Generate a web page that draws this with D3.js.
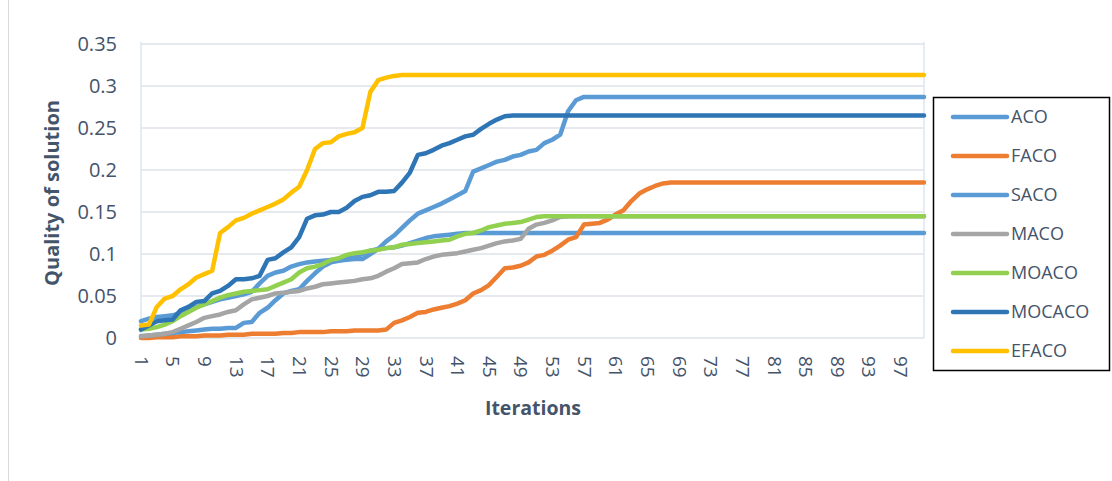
<!DOCTYPE html>
<html>
<head>
<meta charset="utf-8">
<script src="https://cdn.jsdelivr.net/npm/d3@7"></script>
<style>
  html, body { margin: 0; padding: 0; background: #ffffff; }
  svg { display: block; font-family: "Open Sans", "Noto Sans", sans-serif; }
</style>
</head>
<body>
<svg id="chart" width="1112" height="481"></svg>
<script>
// Iteration numbers 1..100
const iterations = d3.range(1, 101);

// Quality of solution per iteration; each run holds its last value once it converges
const hold = (values, len) => values.concat(Array(len - values.length).fill(values[values.length - 1]));

const aco = hold([0.020, 0.023, 0.025, 0.026, 0.027, 0.030, 0.033, 0.037, 0.040, 0.043,
  0.046, 0.048, 0.050, 0.052, 0.055, 0.065, 0.074, 0.078, 0.080, 0.085,
  0.088, 0.090, 0.091, 0.092, 0.093, 0.094, 0.095, 0.096, 0.100, 0.104,
  0.106, 0.107, 0.108, 0.110, 0.113, 0.116, 0.119, 0.121, 0.122, 0.123,
  0.124, 0.125], 100);

const faco = hold([0.000, 0.000, 0.001, 0.001, 0.001, 0.002, 0.002, 0.002, 0.003, 0.003,
  0.003, 0.004, 0.004, 0.004, 0.005, 0.005, 0.005, 0.005, 0.006, 0.006,
  0.007, 0.007, 0.007, 0.007, 0.008, 0.008, 0.008, 0.009, 0.009, 0.009,
  0.009, 0.010, 0.018, 0.021, 0.025, 0.030, 0.031, 0.034, 0.036, 0.038,
  0.041, 0.045, 0.053, 0.057, 0.063, 0.073, 0.083, 0.084, 0.086, 0.090,
  0.097, 0.099, 0.104, 0.110, 0.117, 0.120, 0.135, 0.136, 0.137, 0.141,
  0.147, 0.152, 0.163, 0.172, 0.177, 0.181, 0.184, 0.185], 100);

const saco = hold([0.002, 0.003, 0.004, 0.005, 0.006, 0.007, 0.008, 0.009, 0.010, 0.011,
  0.011, 0.012, 0.012, 0.018, 0.019, 0.030, 0.036, 0.045, 0.053, 0.056,
  0.058, 0.068, 0.077, 0.085, 0.090, 0.092, 0.093, 0.094, 0.094, 0.100,
  0.106, 0.115, 0.122, 0.131, 0.140, 0.148, 0.152, 0.156, 0.160, 0.165,
  0.170, 0.175, 0.198, 0.202, 0.206, 0.210, 0.212, 0.216, 0.218, 0.222,
  0.224, 0.232, 0.236, 0.242, 0.270, 0.283, 0.287], 100);

const maco = hold([0.002, 0.003, 0.004, 0.005, 0.007, 0.011, 0.015, 0.019, 0.024, 0.026,
  0.028, 0.031, 0.033, 0.040, 0.046, 0.048, 0.050, 0.053, 0.054, 0.055,
  0.056, 0.059, 0.061, 0.064, 0.065, 0.066, 0.067, 0.068, 0.070, 0.071,
  0.074, 0.079, 0.083, 0.088, 0.089, 0.090, 0.094, 0.097, 0.099, 0.100,
  0.101, 0.103, 0.105, 0.107, 0.110, 0.113, 0.115, 0.116, 0.118, 0.130,
  0.135, 0.137, 0.140, 0.144, 0.145], 100);

const moaco = hold([0.010, 0.011, 0.013, 0.016, 0.020, 0.026, 0.031, 0.036, 0.040, 0.044,
  0.048, 0.051, 0.053, 0.055, 0.056, 0.057, 0.058, 0.062, 0.066, 0.070,
  0.078, 0.083, 0.085, 0.088, 0.093, 0.095, 0.099, 0.101, 0.102, 0.104,
  0.105, 0.107, 0.108, 0.111, 0.112, 0.113, 0.114, 0.115, 0.116, 0.117,
  0.121, 0.124, 0.125, 0.128, 0.132, 0.134, 0.136, 0.137, 0.138, 0.141,
  0.144, 0.145], 100);

const mocaco = hold([0.010, 0.015, 0.020, 0.021, 0.022, 0.033, 0.037, 0.043, 0.044, 0.053,
  0.056, 0.062, 0.070, 0.070, 0.071, 0.074, 0.093, 0.095, 0.102, 0.108,
  0.120, 0.142, 0.146, 0.147, 0.150, 0.150, 0.155, 0.163, 0.168, 0.170,
  0.174, 0.174, 0.175, 0.185, 0.197, 0.218, 0.220, 0.224, 0.229, 0.232,
  0.236, 0.240, 0.242, 0.249, 0.255, 0.260, 0.264, 0.265], 100);

const efaco = hold([0.015, 0.016, 0.037, 0.047, 0.050, 0.058, 0.064, 0.072, 0.076, 0.080,
  0.125, 0.132, 0.140, 0.143, 0.148, 0.152, 0.156, 0.160, 0.165, 0.173,
  0.180, 0.200, 0.225, 0.232, 0.233, 0.240, 0.243, 0.245, 0.250, 0.293,
  0.307, 0.310, 0.312, 0.313], 100);

const seriesNames = ["ACO", "FACO", "SACO", "MACO", "MOACO", "MOCACO", "EFACO"];
const seriesValues = [aco, faco, saco, maco, moaco, mocaco, efaco];
const seriesColors = ["#5B9BD5", "#ED7D31", "#5B9BD5", "#A5A5A5", "#92D050", "#2E75B6", "#FFC000"];

const yTicks = [0, 0.05, 0.1, 0.15, 0.2, 0.25, 0.3, 0.35];
const yTickLabels = ["0", "0.05", "0.1", "0.15", "0.2", "0.25", "0.3", "0.35"];
const xTickLabels = iterations.filter(i => (i - 1) % 4 === 0);

const textColor = "#44546A";
const svg = d3.select("#chart");

// Chart frame (left edge visible)
svg.append("rect")
  .attr("x", 8.5).attr("y", -2).attr("width", 1200).attr("height", 490)
  .attr("fill", "none").attr("stroke", "#D9D9D9").attr("stroke-width", 1);

const plot = { left: 141, right: 924, top: 44, bottom: 338 };

const x = d3.scalePoint().domain(iterations).range([plot.left, plot.right]);
const y = d3.scaleLinear().domain([0, 0.35]).range([plot.bottom, plot.top]);

// Horizontal gridlines
svg.append("g")
  .selectAll("line")
  .data(yTicks)
  .join("line")
  .attr("x1", plot.left).attr("x2", plot.right)
  .attr("y1", d => y(d)).attr("y2", d => y(d))
  .attr("stroke", "#DEE3EA").attr("stroke-width", 1.5);

// Plot-area side edges
svg.append("line").attr("x1", plot.left).attr("x2", plot.left)
  .attr("y1", plot.top - 2).attr("y2", plot.bottom)
  .attr("stroke", "#DCE6F2").attr("stroke-width", 1.5);
svg.append("line").attr("x1", plot.right).attr("x2", plot.right)
  .attr("y1", plot.top - 2).attr("y2", plot.bottom)
  .attr("stroke", "#DCE6F2").attr("stroke-width", 1.5);

// Y axis labels
const yAxis = d3.axisLeft(y).tickValues(yTicks)
  .tickFormat((d, i) => yTickLabels[i]).tickSize(0).tickPadding(24);
svg.append("g")
  .attr("transform", `translate(${plot.left},0)`)
  .call(yAxis)
  .call(g => g.select(".domain").remove())
  .call(g => g.selectAll("text")
    .attr("fill", textColor).style("font-size", "20px")
    .style("font-family", "'Open Sans', sans-serif"));

// X axis labels, rotated to read top to bottom
const xAxis = d3.axisBottom(x).tickValues(xTickLabels).tickSize(0).tickPadding(0);
svg.append("g")
  .attr("transform", `translate(0,${plot.bottom})`)
  .call(xAxis)
  .call(g => g.select(".domain").remove())
  .call(g => g.selectAll("text")
    .attr("fill", textColor).style("font-size", "19px")
    .style("font-family", "'Open Sans', sans-serif")
    .attr("text-anchor", "start")
    .attr("x", 0).attr("y", 0).attr("dy", "0.35em")
    .attr("transform", "translate(0,18) rotate(90)"));

// Axis titles
svg.append("text")
  .attr("transform", `translate(59,${(plot.top + plot.bottom) / 2 + 2}) rotate(-90)`)
  .attr("text-anchor", "middle")
  .attr("fill", textColor).style("font-size", "20px").style("font-weight", "bold")
  .text("Quality of solution");

svg.append("text")
  .attr("x", 533).attr("y", 415)
  .attr("text-anchor", "middle")
  .attr("fill", textColor).style("font-size", "19.5px").style("font-weight", "bold")
  .text("Iterations");

// Series lines
const line = d3.line()
  .x((d, i) => x(iterations[i]))
  .y(d => y(d));

svg.append("g")
  .selectAll("path")
  .data(seriesValues)
  .join("path")
  .attr("d", d => line(d))
  .attr("fill", "none")
  .attr("stroke", (d, i) => seriesColors[i])
  .attr("stroke-width", 4.5)
  .attr("stroke-linejoin", "round")
  .attr("stroke-linecap", "round");

// Legend
const legend = svg.append("g");
legend.append("rect")
  .attr("x", 933.5).attr("y", 97.5).attr("width", 176).attr("height", 273)
  .attr("fill", "#ffffff").attr("stroke", "#000000").attr("stroke-width", 1.5);

const rows = legend.selectAll("g.item")
  .data(seriesNames)
  .join("g")
  .attr("class", "item")
  .attr("transform", (d, i) => `translate(0,${117 + i * 39})`);

rows.append("line")
  .attr("x1", 953).attr("x2", 1007)
  .attr("y1", 0).attr("y2", 0)
  .attr("stroke", (d, i) => seriesColors[i])
  .attr("stroke-width", 4.5)
  .attr("stroke-linecap", "round");

rows.append("text")
  .attr("x", 1011).attr("y", 0).attr("dy", "0.35em")
  .attr("fill", textColor).style("font-size", "18px")
  .text(d => d);
</script>
</body>
</html>
